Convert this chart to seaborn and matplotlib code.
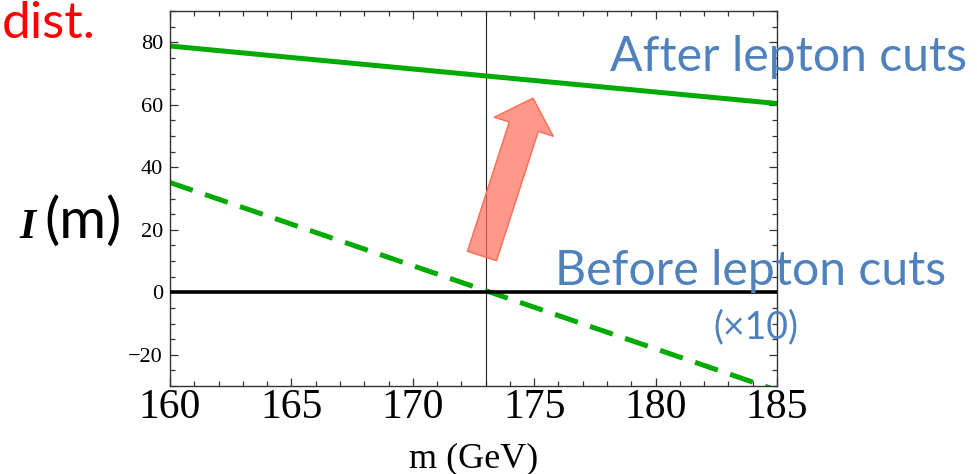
import matplotlib
matplotlib.use("Agg")
import matplotlib.pyplot as plt
from matplotlib.patches import FancyArrowPatch
from matplotlib.ticker import MultipleLocator
import seaborn as sns
import pandas as pd

# ---- data ----
mass = [160, 185]
after_cuts = [78.8, 60.4]
before_cuts_x10 = [35.1, -31.4]
x_ticks = [160, 165, 170, 175, 180, 185]
y_ticks = [-20, 0, 20, 40, 60, 80]
m_top = 173.0
arrow_tail = (172.85, 11.6)
arrow_tip = (174.95, 62.1)

sns.set_theme(style="ticks")
plt.rcParams["font.family"] = ["Liberation Serif", "DejaVu Serif"]
plt.rcParams["axes.unicode_minus"] = True
plt.rcParams["text.color"] = "black"
plt.rcParams["xtick.labelcolor"] = "black"
plt.rcParams["ytick.labelcolor"] = "black"
plt.rcParams["axes.labelcolor"] = "black"

W, H = 978, 474
fig = plt.figure(figsize=(W / 100, H / 100), dpi=100)
ax = fig.add_axes([170 / W, 1 - 386 / H, 607 / W, 375 / H])

df_after = pd.DataFrame({"m": mass, "I": after_cuts})
df_before = pd.DataFrame({"m": mass, "I": before_cuts_x10})

green = "#00aa00"
sns.lineplot(data=df_after, x="m", y="I", ax=ax, color=green, linewidth=3.6)
sns.lineplot(data=df_before, x="m", y="I", ax=ax, color=green, linewidth=3.6,
             linestyle=(0, (4.8, 2.6)))
ax.axhline(0, color="black", linewidth=2.6, zorder=3)
ax.axvline(m_top, color="#222222", linewidth=0.8, zorder=1)

arrow = FancyArrowPatch(arrow_tail, arrow_tip,
                        arrowstyle="simple,head_length=21.6,head_width=44.6,tail_width=22",
                        mutation_scale=1, shrinkA=0, shrinkB=0,
                        facecolor=(1.0, 0.42, 0.35, 0.7), edgecolor="#ff6a55",
                        linewidth=1.0, zorder=4)
ax.add_patch(arrow)

ax.set_xlim(160, 185)
ax.set_ylim(-30, 90)
ax.set_xticks(x_ticks)
ax.set_yticks(y_ticks)
ax.set_xticklabels([str(t) for t in x_ticks])
ax.set_yticklabels([str(t).replace("-", "\u2212") for t in y_ticks])
ax.xaxis.set_minor_locator(MultipleLocator(1))
ax.yaxis.set_minor_locator(MultipleLocator(5))
ax.tick_params(which="both", direction="in", top=True, right=True, color="#333333", width=0.9,
               labelcolor="black")
ax.tick_params(which="major", length=6)
ax.tick_params(which="minor", length=3.5)
ax.tick_params(axis="x", which="major", labelsize=30, pad=2)
ax.tick_params(axis="y", which="major", labelsize=16, pad=5)
for s in ax.spines.values():
    s.set_color("#333333")
    s.set_linewidth(1.0)
    s.set_visible(True)
ax.set_xlabel("m (GeV)", fontsize=26, labelpad=11, color="black")
ax.set_ylabel("")

sans = ["Lato", "DejaVu Sans"]
blue = "#4f81bd"


def px(x, y):
    return x / W, 1 - y / H


fig.text(*px(2, 38), "dist.", color="red", fontsize=37, family=sans, ha="left", va="baseline")
fig.text(*px(610, 71), "After lepton cuts", color=blue, fontsize=34.7, family=sans, ha="left", va="baseline")
fig.text(*px(555, 285), "Before lepton cuts", color=blue, fontsize=34.7, family=sans, ha="left", va="baseline")
fig.text(*px(756, 338), "(\u00d710)", color=blue, fontsize=27, family=sans, ha="center", va="baseline")
fig.text(*px(19, 238), "I", fontsize=30, family=["Liberation Serif"], style="italic", weight="bold",
         ha="left", va="baseline", color="black")
fig.text(*px(44, 238), "(m)", fontsize=41, family=sans, ha="left", va="baseline", color="black")

fig.savefig("out.png", dpi=100)
